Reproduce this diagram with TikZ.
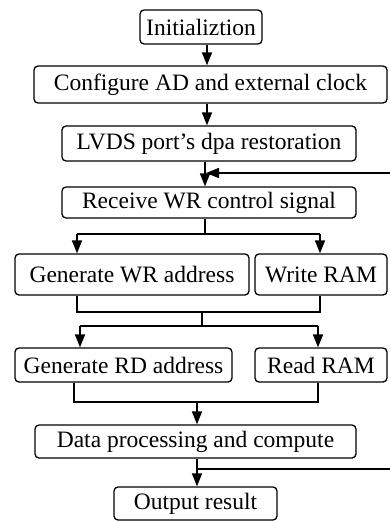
\documentclass[tikz,border=0pt]{standalone}
\usepackage{fontspec}
\setmainfont{Liberation Serif}
\usetikzlibrary{arrows.meta,calc}
\begin{document}
\begin{tikzpicture}[x=1pt,y=-1pt,
  box/.style={draw,line width=1.3pt,rounded corners=4pt,inner sep=0pt,font=\fontsize{23.5}{26}\selectfont},
  conn/.style={line width=1.6pt},
  arr/.style={conn,-{Triangle[length=13pt,width=10pt]}}]
\useasboundingbox (0,0) rectangle (389,522);
\node[box,minimum width=122pt,minimum height=34pt] (init) at (201,27) {Initializtion};
\node[box,minimum width=353pt,minimum height=37pt] (conf) at (210.5,84.5) {Configure AD and external clock};
\node[box,minimum width=294pt,minimum height=35pt] (lvds) at (209,143.5) {LVDS port’s dpa restoration};
\node[box,minimum width=294pt,minimum height=31pt] (recv) at (209,202.5) {Receive WR control signal};
\node[box,minimum width=234pt,minimum height=41pt] (genwr) at (132,274.5) {Generate WR address};
\node[box,minimum width=132pt,minimum height=41pt] (wram) at (321,274.5) {Write RAM};
\node[box,minimum width=217pt,minimum height=34pt] (genrd) at (123.5,365) {Generate RD address};
\node[box,minimum width=132pt,minimum height=34pt] (rram) at (321,365) {Read RAM};
\node[box,minimum width=321pt,minimum height=33pt] (data) at (195.5,441.5) {Data processing and compute};
\node[box,minimum width=163pt,minimum height=33pt] (out) at (195.5,503.5) {Output result};
% spine coordinates
\coordinate (a) at (207,0);
\coordinate (b) at (205,0);
\coordinate (m) at (202,0);
\coordinate (d) at (197,0);
\coordinate (wl) at (77,234);
\coordinate (wr) at (320,234);
\coordinate (jl) at (77,312);
\coordinate (jr) at (320,312);
\coordinate (rl) at (80,326);
\coordinate (rr) at (318,326);
\coordinate (ol) at (74,402);
\coordinate (or) at (318,402);
\coordinate (fbB) at (197,469);
\coordinate (fbT) at (206,173);
\coordinate (e1) at (396,469);
\coordinate (e2) at (396,173);
% connectors
\draw[arr] (init.south -| a) -- (conf.north -| a);
\draw[arr] (conf.south -| a) -- (lvds.north -| a);
\draw[arr] (lvds.south -| b) -- (recv.north -| b);
\draw[conn] (recv.south -| b) -- (b |- wl);
\draw[conn] (wl) -- (wr);
\draw[arr] (wl) -- (genwr.north -| wl);
\draw[arr] (wr) -- (wram.north -| wr);
\draw[conn] (genwr.south -| jl) -- (jl) -- (jr) -- (wram.south -| jr);
\draw[conn] (m |- jl) -- (m |- rl);
\draw[conn] (rl) -- (rr);
\draw[arr] (rl) -- (genrd.north -| rl);
\draw[arr] (rr) -- (rram.north -| rr);
\draw[conn] (genrd.south -| ol) -- (ol) -- (or) -- (rram.south -| or);
\draw[arr] (d |- ol) -- (data.north -| d);
\draw[arr] (data.south -| d) -- (out.north -| d);
\draw[arr] (fbB) -- (e1) -- (e2) -- (fbT);
\end{tikzpicture}
\end{document}
